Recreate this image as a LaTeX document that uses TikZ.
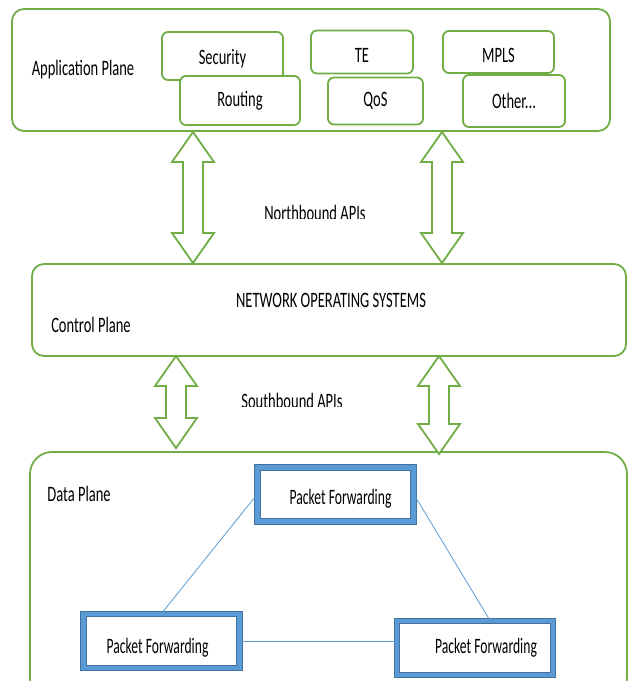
\documentclass[tikz,border=0pt]{standalone}
\usepackage{fontspec}
\setmainfont{Carlito}
\usepackage{graphicx}
\usetikzlibrary{positioning}
\definecolor{sdngreen}{HTML}{70AD47}
\definecolor{pfblue}{HTML}{5B9BD5}
\definecolor{pfdark}{HTML}{41719C}
\newcommand{\nar}[1]{\scalebox{0.66}[1]{#1}}
\newcommand{\narpf}[1]{\scalebox{0.62}[1]{#1}}
\newcommand{\low}[1]{\raisebox{-3pt}[\height][\depth]{\nar{#1}}}
\tikzset{
  plane/.style={rectangle,draw=sdngreen,line width=1.8pt,rounded corners=12pt,fill=white},
  appbox/.style={rectangle,draw=sdngreen,line width=1.8pt,rounded corners=6pt,fill=white,
    inner sep=0pt,font=\fontsize{22}{24}\selectfont},
  fwdbox/.style={rectangle,draw=pfdark,line width=1pt,double=pfblue,double distance=4.5pt,
    fill=white,minimum width=156pt,minimum height=54pt,inner sep=0pt},
  lbl/.style={inner sep=0pt,font=\fontsize{22}{24}\selectfont},
  link/.style={draw=pfblue,line width=0.8pt},
  pics/biarrow/.style={code={
    \draw[sdngreen,line width=1.8pt,line join=miter,fill=white]
      (0,0) -- (21,30) -- (10,30) -- (10,#1-30) -- (21,#1-30) -- (0,#1)
      -- (-21,#1-30) -- (-10,#1-30) -- (-10,30) -- (-21,30) -- cycle;}},
}

\begin{document}
\begin{tikzpicture}[x=1pt,y=-1pt]
  \useasboundingbox (0,0) rectangle (628,681);
  \clip (0,0) rectangle (628,681);
  % the three planes
  \node[plane,minimum width=598pt,minimum height=122pt] (app) at (311,70) {};
  \node[plane,minimum width=594pt,minimum height=92pt] (ctrl) at (329,310) {};
  \node[plane,minimum width=597pt,minimum height=248pt,rounded corners=22pt] (data) at (328.5,576) {};
  \node[lbl] (appLbl) at (83,70) {\nar{Application Plane}};
  \node[lbl] (nos) at (331,300) {\nar{NETWORK OPERATING SYSTEMS}};
  \node[lbl] (ctrlLbl) at (91,325) {\nar{Control Plane}};
  \node[lbl] (dataLbl) at (79,494) {\nar{Data Plane}};
  % applications
  \node[appbox,minimum width=121pt,minimum height=48pt] (sec) at (222.5,56) {\low{Security}};
  \node[appbox,minimum width=120pt,minimum height=49pt] (rout) at (240,100.5) {\nar{Routing}};
  \node[appbox,minimum width=102pt,minimum height=43pt] (te) at (362,52) {\low{TE}};
  \node[appbox,minimum width=95pt,minimum height=47pt] (qos) at (375.5,101) {\nar{QoS}};
  \node[appbox,minimum width=111pt,minimum height=42pt] (mpls) at (498.5,52) {\low{MPLS}};
  \node[appbox,minimum width=102pt,minimum height=52pt] (other) at (514,101) {\nar{Other...}};
  % APIs between planes (labels cut off at the bottom)
  \pic at (193,132) {biarrow=131};
  \pic at (442,132) {biarrow=131};
  \begin{scope}
    \clip (220,195) rectangle (410,218);
    \node[lbl,anchor=base] (north) at (315,220) {\nar{Northbound APIs}};
  \end{scope}
  \pic at (176,356) {biarrow=92};
  \pic at (439,356) {biarrow=98};
  \begin{scope}
    \clip (200,385) rectangle (390,406);
    \node[lbl,anchor=base] (south) at (292,408) {\nar{Southbound APIs}};
  \end{scope}
  % forwarding elements
  \node[fwdbox] (pfTop) at (335.5,494.5) {};
  \node[fwdbox] (pfLeft) at (161.5,641) {};
  \node[fwdbox] (pfRight) at (475,648) {};
  \node[lbl] (pfTopTxt) at ([shift={(5,4.5)}]pfTop) {\narpf{Packet Forwarding}};
  \node[lbl] (pfLeftTxt) at ([shift={(-4,7)}]pfLeft) {\narpf{Packet Forwarding}};
  \node[lbl] (pfRightTxt) at ([shift={(11,0)}]pfRight) {\narpf{Packet Forwarding}};
  \draw[link] (pfTop.west) -- (pfLeft.north);
  \draw[link] (pfTop.east) -- ([xshift=15pt]pfRight.north);
  \draw[link] (pfLeft.east) -- (pfLeft.east -| pfRight.west);
\end{tikzpicture}
\end{document}
